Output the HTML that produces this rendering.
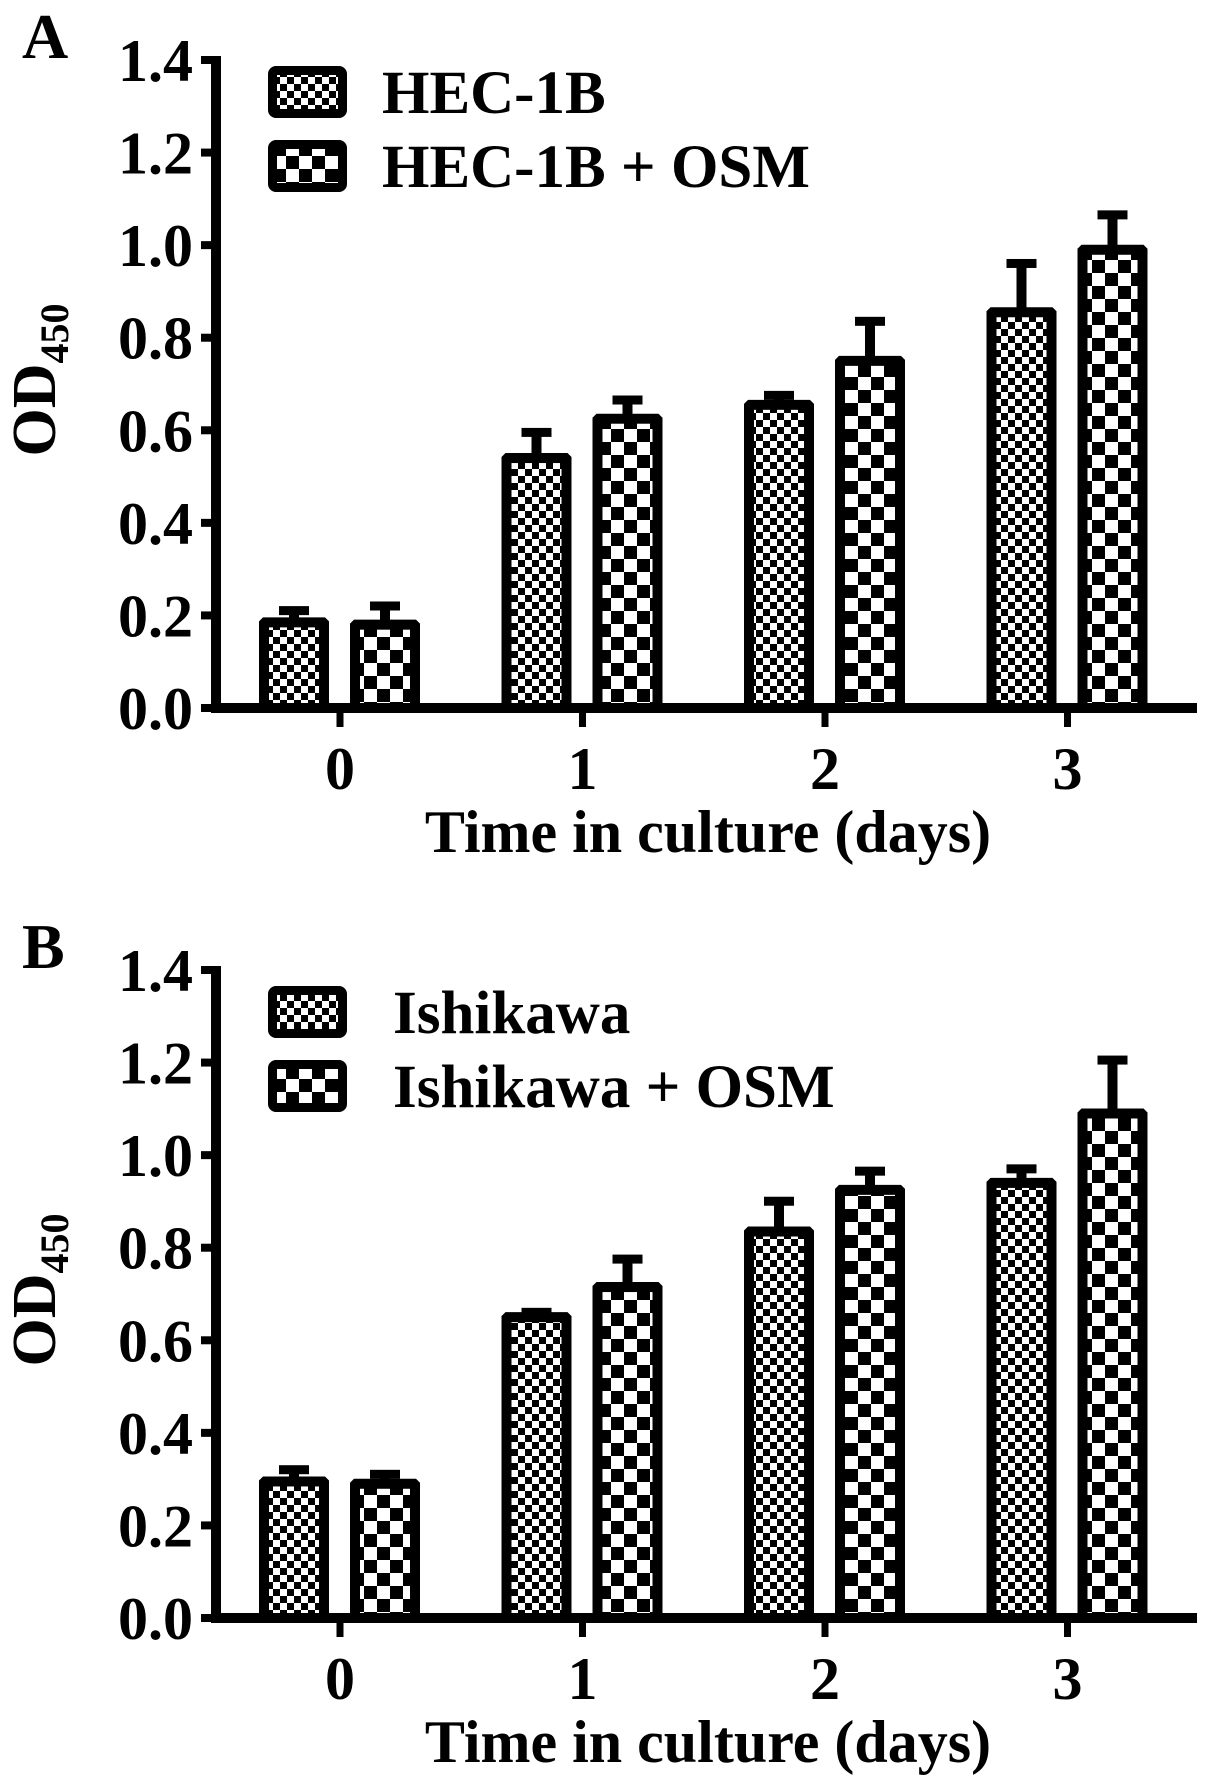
<!DOCTYPE html>
<html><head><meta charset="utf-8">
<style>
html,body{margin:0;padding:0;background:#fff;}
svg{display:block;}
text{font-family:"Liberation Serif",serif;font-weight:bold;fill:#000;}
</style></head>
<body>
<svg id="fig" width="1205" height="1792" viewBox="0 0 1205 1792" xmlns="http://www.w3.org/2000/svg">
<defs>
<pattern id="fine" width="14" height="14" patternUnits="userSpaceOnUse">
<rect width="14" height="14" fill="#fff"/><rect width="7" height="7" fill="#000"/><rect x="7" y="7" width="7" height="7" fill="#000"/>
</pattern>
<pattern id="coarse" width="26" height="26" patternUnits="userSpaceOnUse">
<rect width="26" height="26" fill="#fff"/><rect width="13" height="13" fill="#000"/><rect x="13" y="13" width="13" height="13" fill="#000"/>
</pattern>
</defs>
</svg>
<script>
const categories = ["0","1","2","3"];
const yTicks = ["0.0","0.2","0.4","0.6","0.8","1.0","1.2","1.4"];
const aSeriesNames = ["HEC-1B","HEC-1B + OSM"];
const aCtrl = [0.185, 0.54, 0.655, 0.855];
const aCtrlErr = [0.02, 0.05, 0.015, 0.10];
const aOsm = [0.18, 0.625, 0.75, 0.99];
const aOsmErr = [0.035, 0.035, 0.08, 0.07];
const bSeriesNames = ["Ishikawa","Ishikawa + OSM"];
const bCtrl = [0.295, 0.65, 0.835, 0.94];
const bCtrlErr = [0.02, 0.005, 0.06, 0.025];
const bOsm = [0.29, 0.715, 0.925, 1.09];
const bOsmErr = [0.015, 0.055, 0.035, 0.11];

const NS = "http://www.w3.org/2000/svg";
const svg = document.getElementById('fig');
function mk(tag, attrs, parent){const e=document.createElementNS(NS,tag);for(const k in attrs)e.setAttribute(k,attrs[k]);(parent||svg).appendChild(e);return e;}

function panel(letter, off, names, ctrl, ctrlErr, osm, osmErr, legendTextX, legendBaselines){
  const g = mk('g',{});
  
  
  const y0 = 708+off, yTop = 60+off, axX = 216, axEnd = 1197;
  const yScale = v => y0 - v*(y0-yTop)/1.4;
  const xScale = i => 340 + 242.5*i;
  const lab = mk('text',{x:22,y:58+off,'font-size':64,'font-weight':'bold'},g); lab.textContent=letter;
   
  const ya = mk('line',{x1:axX,y1:yTop-4,x2:axX,y2:y0+4,stroke:'#000','stroke-width':10},g);
   
  yTicks.forEach((t,i)=>{
    const v = i*0.2, y = yScale(v);
    const tk = mk('line',{x1:201,y1:y,x2:axX,y2:y,stroke:'#000','stroke-width':8},g);
     
    const tl = mk('text',{x:193,y:y+21,'font-size':60,'text-anchor':'end'},g); tl.textContent=t;
     
  });
  const yt = mk('text',{transform:`translate(55,${380+off}) rotate(-90)`,'font-size':62,'text-anchor':'middle'},g);
   
  yt.appendChild(document.createTextNode('OD'));
  const sub = mk('tspan',{'font-size':40,dy:13},yt); sub.textContent='450';
  function bar(cx, v, e, fill, name){
    const w=70, bw=10, top=yScale(v)-5, cap=yScale(v+e)-3;
    const st = mk('rect',{x:cx-5,y:cap,width:10,height:top-cap+2,fill:'#000'},g);
     
    const cp = mk('rect',{x:cx-15,y:cap-4,width:30,height:9,fill:'#000'},g);
     
    const l=cx-w/2, r=cx+w/2, c=4;
    const b = mk('path',{d:`M${l},${y0} L${l},${top+c} L${l+c},${top} L${r-c},${top} L${r},${top+c} L${r},${y0} Z`,fill:'#000'},g);
     
    const inner = mk('rect',{x:l+bw,y:top+bw,width:w-2*bw,height:Math.max(0,y0-top-bw),fill:fill},g);
     
  }
  categories.forEach((c,i)=>{
    bar(xScale(i)-46, ctrl[i], ctrlErr[i], 'url(#fine)', 'bar-control-day'+c);
    bar(xScale(i)+45, osm[i], osmErr[i], 'url(#coarse)', 'bar-osm-day'+c);
  });
  const xa = mk('line',{x1:axX-5,y1:y0,x2:axEnd,y2:y0,stroke:'#000','stroke-width':10},g);
   
  categories.forEach((c,i)=>{
    const tk = mk('line',{x1:xScale(i),y1:y0,x2:xScale(i),y2:y0+19,stroke:'#000','stroke-width':7},g);
     
    const tl = mk('text',{x:xScale(i),y:y0+81,'font-size':60,'text-anchor':'middle'},g); tl.textContent=c;
     
  });
  const xt = mk('text',{x:708,y:y0+144,'font-size':60,'text-anchor':'middle'},g); xt.textContent='Time in culture (days)';
   
  names.forEach((n,i)=>{
    const by = legendBaselines[i]-47;
    const bx = mk('rect',{x:268,y:by,width:79,height:52,rx:8,fill:'#000'},g);
     
    mk('rect',{x:277,y:by+9,width:61,height:34,fill:i===0?'url(#fine)':'url(#coarse)'},g);
    const t = mk('text',{x:legendTextX,y:legendBaselines[i],'font-size':61},g); t.textContent=n;
     
  });
}
panel('A',0,aSeriesNames,aCtrl,aCtrlErr,aOsm,aOsmErr,382,[113,187]);
panel('B',910,bSeriesNames,bCtrl,bCtrlErr,bOsm,bOsmErr,393,[1033,1107]);
</script>
</body></html>
